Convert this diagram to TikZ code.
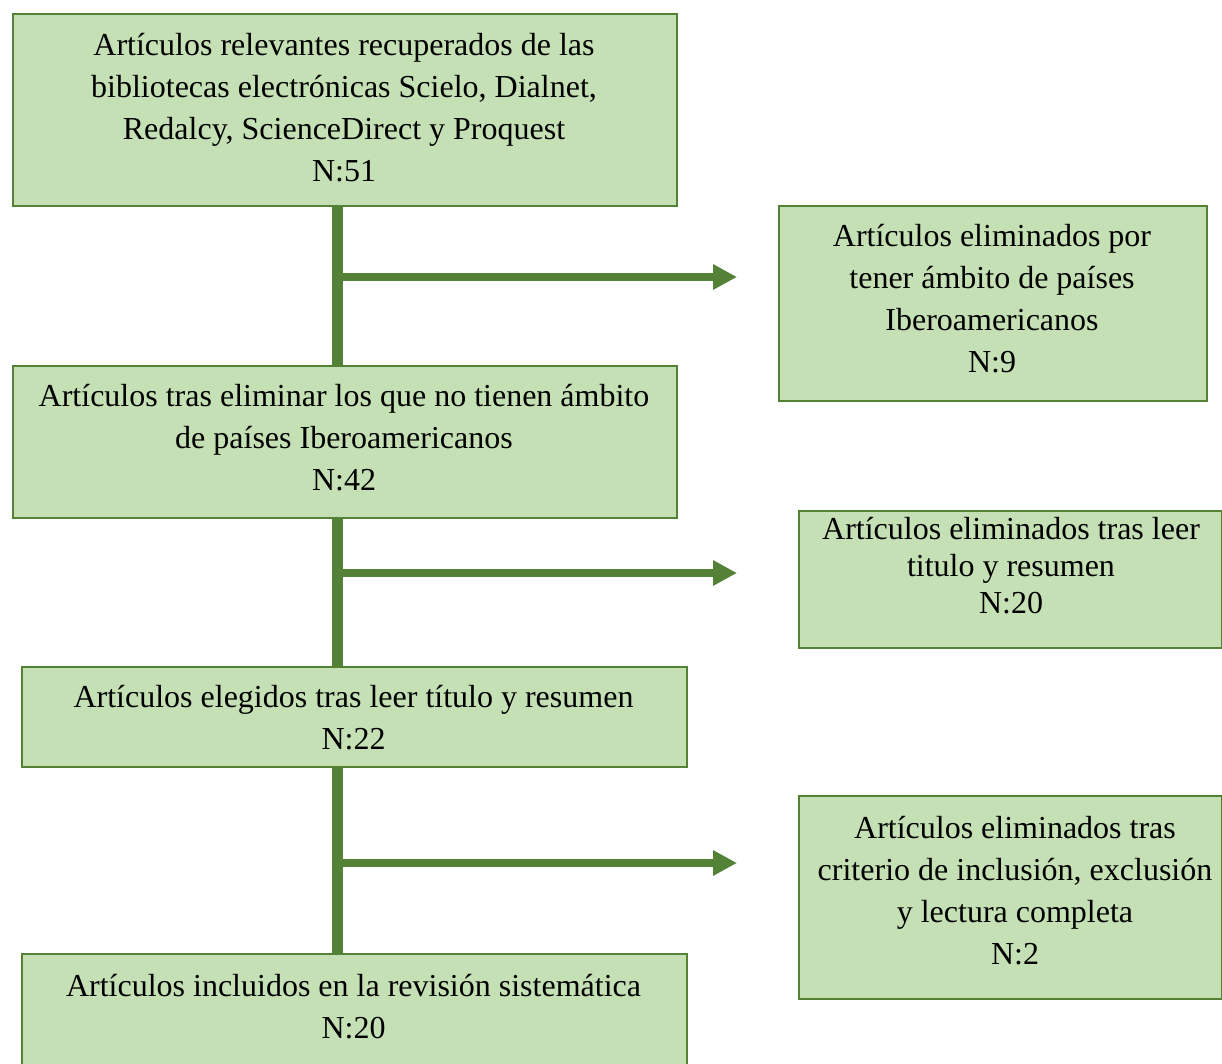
\documentclass[tikz,border=0pt]{standalone}
\usepackage{fontspec}
\setmainfont{Liberation Serif}
\usetikzlibrary{arrows.meta}
\definecolor{bordergreen}{HTML}{548235}
\definecolor{fillgreen}{HTML}{C5E0B4}
\definecolor{trunkgreen}{HTML}{538135}
\begin{document}
\begin{tikzpicture}[x=1pt,y=-1pt,
  box/.style={draw=bordergreen, fill=fillgreen, line width=2pt, inner sep=0pt, anchor=north west},
  txt/.style={align=center, inner sep=0pt, anchor=north, font=\fontsize{32}{42}\selectfont},
  txttight/.style={txt, font=\fontsize{32}{37}\selectfont},
  trunk/.style={draw=trunkgreen, line width=11pt},
  branch/.style={draw=trunkgreen, line width=8pt, -{Triangle[length=24pt,width=24pt]}}]
\useasboundingbox (0,0) rectangle (1222,1064);
% left column boxes
\node[box, minimum width=664pt, minimum height=192pt] (b1) at (12,13) {};
\node[txt] (t1) at (344,21) {\rule{0pt}{34pt}Artículos relevantes recuperados de las\\bibliotecas electrónicas Scielo, Dialnet,\\Redalcy, ScienceDirect y Proquest\\N:51};
\node[box, minimum width=664pt, minimum height=152pt] (b2) at (12,365) {};
\node[txt] (t2) at (344,372) {\rule{0pt}{34pt}Artículos tras eliminar los que no tienen ámbito\\de países Iberoamericanos\\N:42};
\node[box, minimum width=665pt, minimum height=100pt] (b3) at (21,666) {};
\node[txt] (t3) at (353.5,673) {\rule{0pt}{34pt}Artículos elegidos tras leer título y resumen\\N:22};
\node[box, minimum width=665pt, minimum height=122pt] (b4) at (21,953) {};
\node[txt] (t4) at (353.5,962) {\rule{0pt}{34pt}Artículos incluidos en la revisión sistemática\\N:20};
% right column boxes
\node[box, minimum width=428pt, minimum height=195pt] (r1) at (778,205) {};
\node[txt] (s1) at (992,212) {\rule{0pt}{34pt}Artículos eliminados por\\tener ámbito de países\\Iberoamericanos\\N:9};
\node[box, minimum width=423pt, minimum height=137pt] (r2) at (798,510) {};
\node[txttight] (s2) at (1011,505) {\rule{0pt}{34pt}Artículos eliminados tras leer\\titulo y resumen\\N:20};
\node[box, minimum width=423pt, minimum height=203pt] (r3) at (798,795) {};
\node[txt] (s3) at (1015,804) {\rule{0pt}{34pt}Artículos eliminados tras\\criterio de inclusión, exclusión\\y lectura completa\\N:2};
% trunk
\coordinate (tx) at (337,0);
\draw[trunk] (b1.south -| tx) -- (b2.north -| tx);
\draw[trunk] (b2.south -| tx) -- (b3.north -| tx);
\draw[trunk] (b3.south -| tx) -- (b4.north -| tx);
% branches
\coordinate (a1) at (337,277); \coordinate (e1) at (737,277);
\coordinate (a2) at (337,573); \coordinate (e2) at (737,573);
\coordinate (a3) at (337,863); \coordinate (e3) at (737,863);
\draw[branch] (a1) -- (e1);
\draw[branch] (a2) -- (e2);
\draw[branch] (a3) -- (e3);
\end{tikzpicture}
\end{document}
